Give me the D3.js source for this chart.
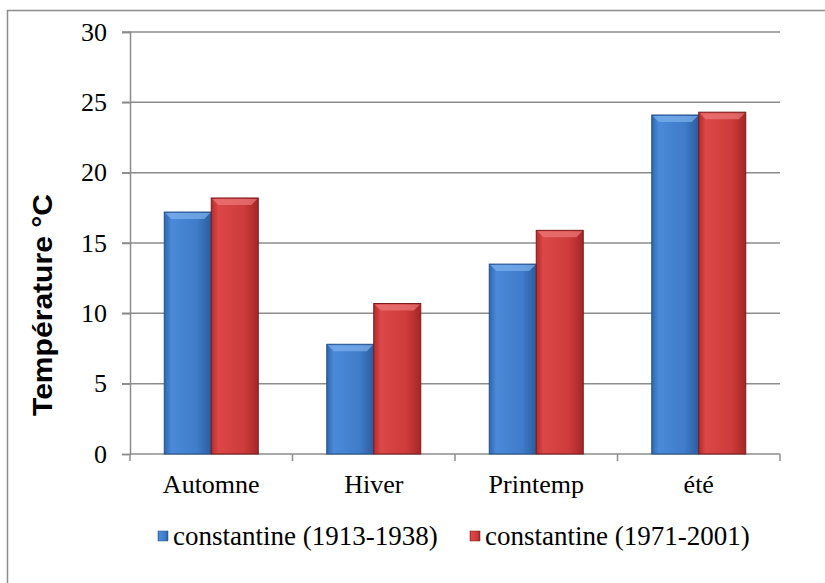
<!DOCTYPE html>
<html lang="fr">
<head>
  <meta charset="UTF-8" />
  <title>Température saisonnière Constantine</title>
  <style>
    body { margin: 0; background: #fff; }
    svg { display: block; }
  </style>
</head>
<body>
  <div id="chart"></div>
  <script src="https://d3js.org/d3.v7.min.js"></script>
  <script>
    const categories = ['Automne', 'Hiver', 'Printemp', 'été'];
    const seriesNames = ['constantine (1913-1938)', 'constantine (1971-2001)'];
    const series1 = [17.2, 7.8, 13.5, 24.1];
    const series2 = [18.2, 10.7, 15.9, 24.3];
    const yTicks = [0, 5, 10, 15, 20, 25, 30];

    const width = 825, height = 583;
    const margin = { top: 32, right: 45, bottom: 129, left: 130 };
    const innerWidth = width - margin.left - margin.right;
    const innerHeight = height - margin.top - margin.bottom;
    const serif = '"Liberation Serif", "Times New Roman", serif';

    const svg = d3.select('#chart').append('svg')
      .attr('width', width)
      .attr('height', height);

    // gradients for the bevelled bars
    const defs = svg.append('defs');
    const palettes = [
      { id: 'gBlue', stops: ['#2f66b0', '#4a8ad8', '#3f7cc9', '#2b5c9e'] },
      { id: 'gRed', stops: ['#b52c2c', '#dc4747', '#cd3b3b', '#a62626'] }
    ];
    palettes.forEach(p => {
      const lg = defs.append('linearGradient').attr('id', p.id)
        .attr('x1', 0).attr('x2', 1).attr('y1', 0).attr('y2', 0);
      [0, 0.15, 0.7, 1].forEach((o, i) => {
        lg.append('stop').attr('offset', o).attr('stop-color', p.stops[i]);
      });
    });
    const edgeColors = ['#24508a', '#7a1a1a'];
    const topColors = ['#7fb2ee', '#ee7a7a'];

    // outer frame (right/bottom edges run off the picture)
    svg.append('path')
      .attr('d', `M7.5,${height} V10.5 H${width}`)
      .attr('fill', 'none')
      .attr('stroke', '#8c8c8c')
      .attr('stroke-width', 1.5);

    const g = svg.append('g')
      .attr('transform', `translate(${margin.left},${margin.top})`);

    const x = d3.scaleBand().domain(categories).range([0, innerWidth]);
    const x1 = d3.scaleBand().domain([0, 1]).range([0, 94]).padding(0);
    const y = d3.scaleLinear().domain([0, 30]).range([innerHeight, 0]);

    // gridlines
    g.append('g').selectAll('line').data(yTicks.slice(1)).enter().append('line')
      .attr('x1', -8).attr('x2', innerWidth)
      .attr('y1', d => y(d)).attr('y2', d => y(d))
      .attr('stroke', '#8c8c8c').attr('stroke-width', 1.5);

    // y axis
    const yAxis = g.append('g')
      .call(d3.axisLeft(y).tickValues(yTicks).tickSize(8).tickPadding(15));
    yAxis.select('.domain').attr('stroke', '#8c8c8c').attr('stroke-width', 1.5);
    yAxis.selectAll('.tick line').attr('stroke', '#8c8c8c').attr('stroke-width', 1.5);
    yAxis.selectAll('text')
      .attr('font-family', serif)
      .attr('font-size', 26).attr('fill', '#000');

    // x axis
    const xAxisG = g.append('g').attr('transform', `translate(0,${innerHeight})`);
    xAxisG.append('line')
      .attr('x1', 0).attr('x2', innerWidth)
      .attr('stroke', '#8c8c8c').attr('stroke-width', 1.5);
    const bounds = categories.map(c => x(c)).concat([innerWidth]);
    xAxisG.selectAll('line.tk').data(bounds).enter().append('line')
      .attr('class', 'tk')
      .attr('x1', d => d).attr('x2', d => d)
      .attr('y1', 0).attr('y2', 7)
      .attr('stroke', '#8c8c8c').attr('stroke-width', 1.5);
    xAxisG.selectAll('text').data(categories).enter().append('text')
      .attr('x', d => x(d) + x.bandwidth() / 2)
      .attr('y', 39)
      .attr('text-anchor', 'middle')
      .attr('font-family', serif)
      .attr('font-size', 26)
      .text(d => d);

    // bars
    const data = categories.map((c, i) => ({ cat: c, vals: [series1[i], series2[i]] }));
    const groups = g.append('g').selectAll('g').data(data).enter().append('g')
      .attr('transform', d => `translate(${x(d.cat) + (x.bandwidth() - 94) / 2},0)`);

    groups.each(function(d) {
      const grp = d3.select(this);
      d.vals.forEach((v, s) => {
        const bx = x1(s), bw = x1.bandwidth(), by = y(v), bh = innerHeight - y(v);
        grp.append('rect')
          .attr('x', bx).attr('y', by)
          .attr('width', bw).attr('height', bh)
          .attr('fill', `url(#${palettes[s].id})`)
          .attr('stroke', edgeColors[s]).attr('stroke-width', 1);
        // top bevel
        grp.append('path')
          .attr('d', `M${bx + 1},${by + 1} L${bx + bw - 1},${by + 1} L${bx + bw - 7},${by + 7} L${bx + 7},${by + 7} Z`)
          .attr('fill', topColors[s]).attr('opacity', 0.7);
      });
    });

    // y title
    svg.append('text')
      .attr('transform', 'translate(52,305) rotate(-90)')
      .attr('text-anchor', 'middle')
      .attr('font-family', '"Liberation Sans", Arial, sans-serif')
      .attr('font-weight', 'bold')
      .attr('font-size', 27)
      .attr('textLength', 222)
      .attr('lengthAdjust', 'spacingAndGlyphs')
      .text('Température °C');

    // legend
    const legendX = [158, 470];
    const legend = svg.append('g');
    seriesNames.forEach((name, s) => {
      legend.append('rect')
        .attr('x', legendX[s]).attr('y', 531)
        .attr('width', 10).attr('height', 10)
        .attr('fill', `url(#${palettes[s].id})`)
        .attr('stroke', edgeColors[s]).attr('stroke-width', 0.5);
      legend.append('text')
        .attr('x', legendX[s] + 15).attr('y', 545)
        .attr('font-family', serif)
        .attr('font-size', 27)
        .text(name);
    });
  </script>
</body>
</html>
